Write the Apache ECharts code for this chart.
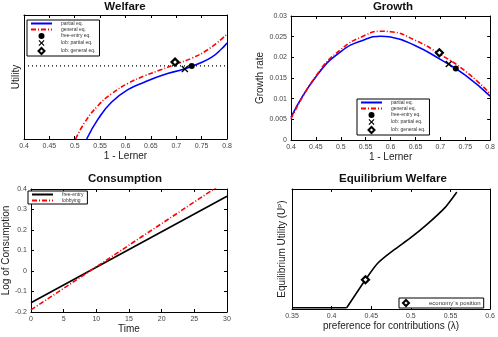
<!DOCTYPE html>
<html>
<head>
<meta charset="utf-8">
<script src="https://cdn.jsdelivr.net/npm/echarts@6/dist/echarts.min.js"></script>
<style>
html, body { margin: 0; padding: 0; background: #fff; }
#chart { width: 498px; height: 337px; }
</style>
</head>
<body>
<div id="chart"></div>
<script>
// Welfare (utility axis has no labels, values are on a 0-100 scale)
const welfarePartial = [[0.5235, 0], [0.5465, 16.4], [0.5728, 29.8], [0.6056, 40], [0.638, 46], [0.671, 51.3],
  [0.717, 56.7], [0.7435, 60.7], [0.77, 66], [0.7895, 72.8], [0.8, 77.5]]
const welfareGeneral = [[0.5018, 0], [0.5202, 13.7], [0.5465, 27.2], [0.5728, 36.6], [0.6056, 45], [0.638, 51],
  [0.671, 56], [0.6976, 60.2], [0.7305, 65.2], [0.763, 72.3], [0.8, 84.5]]
const welfareFreeEntry = [[0.4, 58.9], [0.8, 58.9]]
const welfareDot = [[0.7305, 58.9]]
const welfareCross = [[0.717, 56.4]]
const welfareDiamond = [[0.6976, 62]]

// Growth
const growthPartial = [[0.4, 0.0055], [0.45, 0.0153], [0.5, 0.0214], [0.55, 0.0244], [0.58, 0.0251], [0.6, 0.0249],
  [0.65, 0.0228], [0.7, 0.0195], [0.75, 0.0157], [0.8, 0.0106]]
const growthGeneral = [[0.4, 0.0051], [0.45, 0.0155], [0.5, 0.0219], [0.55, 0.0254], [0.58, 0.0263], [0.6, 0.0262],
  [0.65, 0.0241], [0.7, 0.0207], [0.75, 0.0167], [0.8, 0.0112]]
const growthDot = [[0.731, 0.0173]]
const growthCross = [[0.717, 0.0184]]
const growthDiamond = [[0.698, 0.0211]]

// Consumption
const timeRange = [0, 30]
const consFreeEntry = [-0.155, 0.365]
const consLobbying = [-0.19, 0.442]

// Equilibrium welfare (utility axis unlabeled, 0-100 scale)
const eqFlat = [[0.35, 1], [0.419, 1]]
const eqRise = [[0.419, 1], [0.4427, 24.4], [0.4584, 38.3], [0.479, 49.4], [0.4994, 59.2],
  [0.52, 70.3], [0.543, 84.5], [0.558, 97.5]]
const eqPosition = [[0.4427, 24.4]]

const legendNames1 = ['partial eq.', 'general eq.', 'free-entry eq.', 'lob: partial eq.', 'lob: general eq.']
const legendNames2 = ['free-entry', 'lobbying']
const lineNames = ['partial eq.', 'general eq.', 'free-entry', 'lobbying']

const FONT = 'Liberation Sans'
const blue = '#0000ff'
const red = '#ff0000'
const dashDot = [5, 2, 1, 2]
const crossPath = 'path://M0,1.4L1.4,0L5,3.6L8.6,0L10,1.4L6.4,5L10,8.6L8.6,10L5,6.4L1.4,10L0,8.6L3.6,5Z'
const diamondPath = 'path://M5,0L10,5L5,10L0,5Z'

const tickStyle = { show: true, inside: true, length: 3, lineStyle: { color: '#000' } }
const labelStyle = { fontSize: 7, color: '#444', fontFamily: FONT, margin: 4 }
const nameStyle = { fontSize: 10, color: '#222', fontFamily: FONT }
const axisLine = { show: true, onZero: false, lineStyle: { color: '#000' } }

function xAxis(grid, min, max, interval, name) {
  return {
    type: 'value', gridIndex: grid, min: min, max: max, interval: interval,
    name: name, nameLocation: 'middle', nameGap: 12, nameTextStyle: nameStyle,
    axisLine: axisLine, axisTick: tickStyle, axisLabel: labelStyle, splitLine: { show: false }
  }
}
function xMirror(grid, min, max, interval) {
  return {
    type: 'value', gridIndex: grid, position: 'top', min: min, max: max, interval: interval,
    axisLine: axisLine, axisTick: tickStyle, axisLabel: { show: false }, splitLine: { show: false }
  }
}
function yAxis(grid, min, max, interval, name, gap, labels) {
  return {
    type: 'value', gridIndex: grid, min: min, max: max, interval: interval,
    name: name, nameLocation: 'middle', nameGap: gap,
    nameTextStyle: Object.assign({}, nameStyle, { rich: { sup: { fontSize: 6, verticalAlign: 'top', color: '#222', fontFamily: FONT } } }),
    axisLine: axisLine,
    axisTick: labels ? tickStyle : { show: false },
    axisLabel: labels ? labelStyle : { show: false },
    splitLine: { show: false }
  }
}
function yMirror(grid, min, max, interval, ticks) {
  return {
    type: 'value', gridIndex: grid, position: 'right', min: min, max: max, interval: interval,
    axisLine: axisLine, axisTick: ticks ? tickStyle : { show: false }, axisLabel: { show: false }, splitLine: { show: false }
  }
}

function legendBox(left, top, names) {
  return {
    left: left, top: top, orient: 'vertical',
    // hide the circle ECharts puts on line icons
    data: names.map(n => lineNames.includes(n) ? { name: n, itemStyle: { opacity: 0 } } : n),
    itemWidth: 21, itemHeight: 6, itemGap: 1, padding: [1, 4, 1, 3],
    borderColor: '#000', borderWidth: 1, backgroundColor: '#fff',
    textStyle: { fontSize: 5, color: '#333', fontFamily: FONT, padding: [0, 0, 0, 4] },
    selectedMode: false
  }
}

function line(name, x, y, data, color, type, width) {
  return {
    name: name, type: 'line', xAxisIndex: x, yAxisIndex: y, data: data,
    showSymbol: false, symbol: 'none', smooth: 0.5,
    lineStyle: { color: color, width: width || 1.6, type: type || 'solid' },
    itemStyle: { color: color }, z: 3
  }
}
function marker(name, x, y, data, symbol, size, fill) {
  return {
    name: name, type: 'scatter', xAxisIndex: x, yAxisIndex: y, data: data,
    symbol: symbol, symbolSize: size,
    itemStyle: { color: fill, borderColor: '#000', borderWidth: fill === '#fff' ? 2.2 : 0, opacity: 1 }, z: 5
  }
}

const chart = echarts.init(document.getElementById('chart'))

const titleStyle = { fontSize: 11.5, fontWeight: 'bold', color: '#111', fontFamily: FONT }

chart.setOption({
  animation: false,
  backgroundColor: '#fff',
  title: [
    { text: 'Welfare', left: 125, top: 1, textAlign: 'center', textStyle: titleStyle, padding: 0 },
    { text: 'Growth', left: 393, top: 1, textAlign: 'center', textStyle: titleStyle, padding: 0 },
    { text: 'Consumption', left: 125, top: 173, textAlign: 'center', textStyle: titleStyle, padding: 0 },
    { text: 'Equilibrium Welfare', left: 393, top: 173, textAlign: 'center', textStyle: titleStyle, padding: 0 }
  ],
  grid: [
    { left: 24, top: 15, width: 203, height: 124 },
    { left: 291, top: 16, width: 202, height: 124 },
    { left: 24, top: 189, width: 203, height: 123 },
    { left: 292, top: 189, width: 203, height: 120 }
  ],
  xAxis: [
    xAxis(0, 0.4, 0.8, 0.05, '1 - Lerner'),
    xAxis(1, 0.4, 0.8, 0.05, '1 - Lerner'),
    xAxis(2, 0, 30, 5, 'Time'),
    xAxis(3, 0.35, 0.6, 0.05, 'preference for contributions (λ)'),
    xMirror(0, 0.4, 0.8, 0.05),
    xMirror(1, 0.4, 0.8, 0.05),
    xMirror(2, 0, 30, 5),
    xMirror(3, 0.35, 0.6, 0.05)
  ],
  yAxis: [
    yAxis(0, 0, 100, 50, 'Utility', 3, false),
    yAxis(1, 0, 0.03, 0.005, 'Growth rate', 24, true),
    yAxis(2, -0.2, 0.4, 0.1, 'Log of Consumption', 19, true),
    yAxis(3, 0, 100, 50, 'Equilibrium Utility (U{sup|P})', 5, false),
    yMirror(0, 0, 100, 50, false),
    yMirror(1, 0, 0.03, 0.005, true),
    yMirror(2, -0.2, 0.4, 0.1, true),
    yMirror(3, 0, 100, 50, false)
  ],
  legend: [
    legendBox(27, 20, legendNames1),
    legendBox(357, 99, legendNames1),
    legendBox(28, 191, legendNames2),
    Object.assign(legendBox(399, 298, ['economy´s position']), {
      itemWidth: 24, padding: [1, 3, 1, 3],
      textStyle: { fontSize: 6, color: '#333', fontFamily: FONT, padding: [0, 0, 0, 6] }
    })
  ],
  series: [
    // Welfare
    Object.assign(line('', 0, 0, welfareFreeEntry, '#000', [1, 3], 1.2), { smooth: false, z: 2 }),
    line('partial eq.', 0, 0, welfarePartial, blue),
    line('general eq.', 0, 0, welfareGeneral, red, dashDot),
    marker('free-entry eq.', 0, 0, welfareDot, 'circle', 6, '#000'),
    marker('lob: partial eq.', 0, 0, welfareCross, crossPath, 7, '#000'),
    marker('lob: general eq.', 0, 0, welfareDiamond, diamondPath, 7, '#fff'),
    // Growth
    line('partial eq.', 1, 1, growthPartial, blue),
    line('general eq.', 1, 1, growthGeneral, red, dashDot),
    marker('free-entry eq.', 1, 1, growthDot, 'circle', 6, '#000'),
    marker('lob: partial eq.', 1, 1, growthCross, crossPath, 7, '#000'),
    marker('lob: general eq.', 1, 1, growthDiamond, diamondPath, 7, '#fff'),
    // Consumption
    Object.assign(line('free-entry', 2, 2, [[timeRange[0], consFreeEntry[0]], [timeRange[1], consFreeEntry[1]]], '#000'), { smooth: false }),
    Object.assign(line('lobbying', 2, 2, [[timeRange[0], consLobbying[0]], [timeRange[1], consLobbying[1]]], red, dashDot), { smooth: false, clip: true }),
    // Equilibrium welfare
    Object.assign(line('', 3, 3, eqFlat, '#000'), { smooth: false }),
    Object.assign(line('', 3, 3, eqRise, '#000'), { smooth: 0.25 }),
    marker('economy´s position', 3, 3, eqPosition, diamondPath, 7, '#fff')
  ]
})
</script>
</body>
</html>
